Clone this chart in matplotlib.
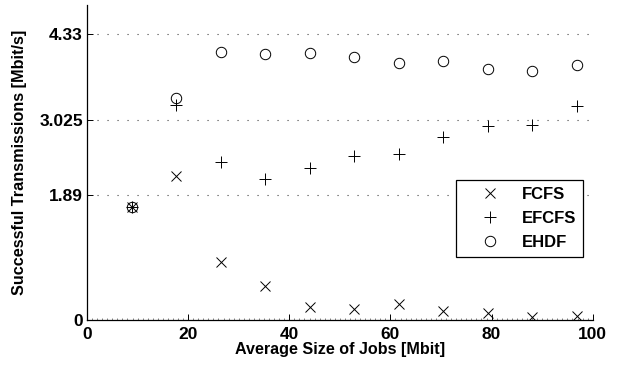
import matplotlib
matplotlib.use("Agg")
import matplotlib.pyplot as plt
from matplotlib.ticker import MultipleLocator
import numpy as np

job_sizes = [8.8, 17.6, 26.4, 35.2, 44.0, 52.8, 61.6, 70.4, 79.2, 88.0, 96.8]
fcfs = [1.71, 2.19, 0.875, 0.52, 0.20, 0.17, 0.24, 0.13, 0.10, 0.05, 0.06]
efcfs = [1.71, 3.26, 2.40, 2.13, 2.31, 2.48, 2.52, 2.78, 2.94, 2.95, 3.25]
ehdf = [1.71, 3.36, 4.06, 4.03, 4.05, 3.99, 3.89, 3.92, 3.81, 3.78, 3.86]
y_ticks = [0, 1.89, 3.025, 4.33]
y_tick_labels = ["0", "1.89", "3.025", "4.33"]
x_ticks = [0, 20, 40, 60, 80, 100]

plt.rcParams['font.family'] = ['Liberation Sans', 'DejaVu Sans']
plt.rcParams['font.weight'] = 'bold'

fig = plt.figure(figsize=(6.18, 3.71), dpi=100)
ax = fig.add_axes([87/618, (371-320)/371, (592.7-87)/618, (320-5)/371])

ax.plot(job_sizes, fcfs, linestyle='none', marker='x', color='black',
        markersize=6.5, markeredgewidth=0.7, label='FCFS')
ax.plot(job_sizes, efcfs, linestyle='none', marker='+', color='black',
        markersize=8, markeredgewidth=0.7, label='EFCFS')
ax.plot(job_sizes, ehdf, linestyle='none', marker='o', markerfacecolor='none',
        markeredgecolor='black', markersize=7.5, markeredgewidth=0.7, label='EHDF')

ax.set_xlim(0, 100)
ax.set_ylim(0, 4.775)
ax.set_xticks(x_ticks)
ax.set_yticks(y_ticks)
ax.set_yticklabels(y_tick_labels)
ax.xaxis.set_minor_locator(MultipleLocator(1))
ax.tick_params(axis='both', which='major', direction='in', length=4, width=0.7,
               labelsize=12.5)
ax.tick_params(axis='x', which='major', pad=5)
ax.tick_params(axis='y', which='major', pad=3)
ax.tick_params(axis='x', which='minor', direction='in', length=1.5, width=0.5,
               color='#555555')
for lab in ax.get_xticklabels() + ax.get_yticklabels():
    lab.set_fontweight('bold')

ax.grid(axis='y', linestyle=(0, (1, 8)), color='#444444', linewidth=0.8)
ax.spines['top'].set_visible(False)
ax.spines['right'].set_visible(False)
ax.spines['left'].set_linewidth(0.9)
ax.spines['bottom'].set_linewidth(0.9)

ax.set_xlabel('Average Size of Jobs [Mbit]', fontsize=11.6, fontweight='bold', labelpad=0)
ax.set_ylabel('Successful Transmissions [Mbit/s]', fontsize=11.7, fontweight='bold', labelpad=9)

leg = ax.legend(loc='upper left', bbox_to_anchor=((455.7-87)/505.7, (320-180)/315),
                fancybox=False, edgecolor='black', framealpha=1,
                prop={'weight': 'bold', 'size': 12}, handlelength=3.36,
                handletextpad=0.2, borderpad=0.4, labelspacing=0.56,
                borderaxespad=0)
leg.get_frame().set_linewidth(0.9)

fig.savefig('out.png', dpi=100)
